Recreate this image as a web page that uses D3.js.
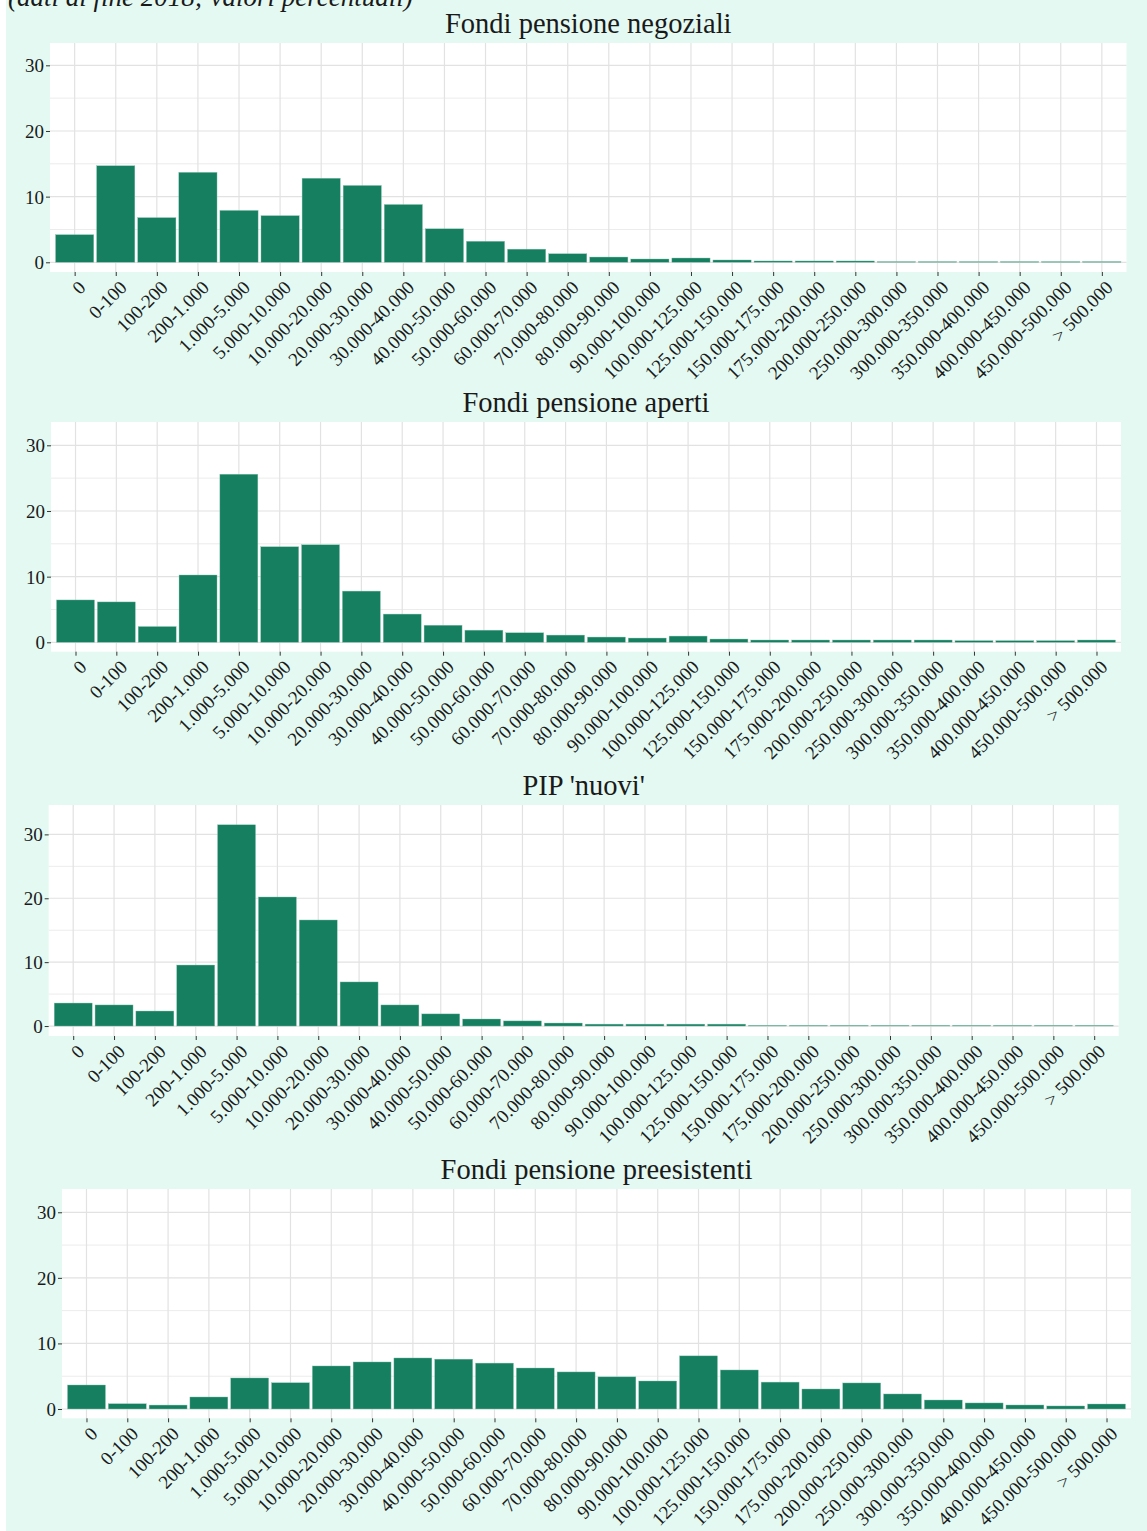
<!DOCTYPE html>
<html>
<head>
<meta charset="utf-8">
<script src="https://cdn.jsdelivr.net/npm/d3@7"></script>
<style>
  html, body { margin: 0; padding: 0; background: #ffffff; }
  svg { display: block; }
  text { font-family: "Liberation Serif", "Times New Roman", serif; fill: #1a1a1a; }
</style>
</head>
<body>
<svg id="chart" width="1147" height="1531"></svg>
<script>
// Classi di posizione individuale (euro)
const categories = [
  "0", "0-100", "100-200", "200-1.000", "1.000-5.000", "5.000-10.000",
  "10.000-20.000", "20.000-30.000", "30.000-40.000", "40.000-50.000",
  "50.000-60.000", "60.000-70.000", "70.000-80.000", "80.000-90.000",
  "90.000-100.000", "100.000-125.000", "125.000-150.000", "150.000-175.000",
  "175.000-200.000", "200.000-250.000", "250.000-300.000", "300.000-350.000",
  "350.000-400.000", "400.000-450.000", "450.000-500.000", "> 500.000"
];

// Quote percentuali degli iscritti per forma pensionistica
const negoziali = [4.2, 14.7, 6.8, 13.7, 7.9, 7.1, 12.8, 11.7, 8.8, 5.1, 3.2, 2.0, 1.3,
                   0.8, 0.5, 0.65, 0.35, 0.2, 0.2, 0.2, 0.1, 0.1, 0.1, 0.1, 0.1, 0.1];
const aperti = [6.45, 6.15, 2.4, 10.25, 25.6, 14.55, 14.85, 7.8, 4.3, 2.6, 1.85, 1.45, 1.1,
                0.8, 0.65, 0.95, 0.5, 0.35, 0.35, 0.35, 0.35, 0.35, 0.25, 0.25, 0.25, 0.35];
const pipNuovi = [3.6, 3.3, 2.35, 9.55, 31.5, 20.2, 16.6, 6.9, 3.3, 1.9, 1.1, 0.8, 0.47,
                  0.3, 0.3, 0.3, 0.3, 0.1, 0.1, 0.1, 0.1, 0.1, 0.1, 0.1, 0.1, 0.1];
const preesistenti = [3.66, 0.8, 0.6, 1.83, 4.73, 4.0, 6.56, 7.17, 7.78, 7.6, 7.0, 6.25, 5.65,
                      4.9, 4.27, 8.1, 5.95, 4.1, 3.05, 3.97, 2.29, 1.37, 0.92, 0.61, 0.46, 0.76];

const panelTitles = ["Fondi pensione negoziali", "Fondi pensione aperti", "PIP 'nuovi'", "Fondi pensione preesistenti"];
const panelValues = [negoziali, aperti, pipNuovi, preesistenti];
const yTicks = [0, 10, 20, 30];
const yMinorTicks = [5, 15, 25];
const subtitle = "(dati di fine 2018; valori percentuali)";

// Geometria dei quattro pannelli
const layout = [
  { left: 50,   right: 1126.5, top: 43,   bottom: 272,    lo: -1.48, hi: 33.4 },
  { left: 51,   right: 1121,   top: 422,  bottom: 651.7,  lo: -1.43, hi: 33.55 },
  { left: 48.7, right: 1118.7, top: 805,  bottom: 1036,   lo: -1.56, hi: 34.6 },
  { left: 62,   right: 1131,   top: 1189, bottom: 1418.3, lo: -1.42, hi: 33.55 }
];

const BAR = "#157f60";
const GRID = "#e2e2e2";
const GRID_MINOR = "#ececec";

const svg = d3.select("#chart");

// sfondo
svg.append("rect").attr("x", 6).attr("y", 0).attr("width", 1141).attr("height", 1531)
  .attr("fill", "#e3f9f2");

svg.append("text")
  .attr("x", 8).attr("y", 6)
  .attr("font-size", 27).attr("font-style", "italic")
  .text(subtitle);

layout.forEach((L, i) => {
  const values = panelValues[i];
  const g = svg.append("g");

  const x = d3.scalePoint().domain(categories).range([L.left, L.right]).padding(0.6);
  const y = d3.scaleLinear().domain([L.lo, L.hi]).range([L.bottom, L.top]);
  const bw = x.step() * 0.93;

  // area del grafico
  g.append("rect")
    .attr("x", L.left).attr("y", L.top)
    .attr("width", L.right - L.left).attr("height", L.bottom - L.top)
    .attr("fill", "#ffffff");

  // griglia
  g.selectAll(".ymin").data(yMinorTicks).join("line")
    .attr("x1", L.left).attr("x2", L.right)
    .attr("y1", d => y(d)).attr("y2", d => y(d))
    .attr("stroke", GRID_MINOR).attr("stroke-width", 1);
  g.selectAll(".ymaj").data(yTicks).join("line")
    .attr("x1", L.left).attr("x2", L.right)
    .attr("y1", d => y(d)).attr("y2", d => y(d))
    .attr("stroke", GRID).attr("stroke-width", 1.2);
  g.selectAll(".xg").data(categories).join("line")
    .attr("x1", d => x(d)).attr("x2", d => x(d))
    .attr("y1", L.top).attr("y2", L.bottom)
    .attr("stroke", GRID).attr("stroke-width", 1.2);

  // barre
  g.selectAll(".bar").data(values).join("rect")
    .attr("x", (d, j) => x(categories[j]) - bw / 2)
    .attr("width", bw)
    .attr("y", d => y(d))
    .attr("height", d => y(0) - y(d))
    .attr("fill", BAR)
    .attr("stroke", "#8cc4b1").attr("stroke-width", 0.4);

  // asse y
  const ya = g.append("g").attr("transform", `translate(${L.left},0)`)
    .call(d3.axisLeft(y).tickValues(yTicks).tickSize(4).tickPadding(2).tickFormat(d3.format("d")));
  ya.select(".domain").remove();
  ya.selectAll(".tick line").attr("stroke", "#333333").attr("stroke-width", 1);
  ya.selectAll(".tick text").attr("font-size", 19).attr("font-family", "Liberation Serif")
    .attr("fill", "#1a1a1a").attr("dy", "0.34em");

  // asse x
  const xa = g.append("g").attr("transform", `translate(0,${L.bottom})`)
    .call(d3.axisBottom(x).tickSize(4).tickPadding(0));
  xa.select(".domain").remove();
  xa.selectAll(".tick line").attr("stroke", "#333333").attr("stroke-width", 1);
  xa.selectAll(".tick text")
    .attr("font-size", 19).attr("font-family", "Liberation Serif").attr("fill", "#1a1a1a")
    .attr("text-anchor", "end")
    .attr("x", 0).attr("y", 0).attr("dy", "0.72em")
    .attr("transform", "translate(2,7) rotate(-45)");

  // titolo del pannello
  g.append("text")
    .attr("x", (L.left + L.right) / 2).attr("y", L.top - 10)
    .attr("text-anchor", "middle").attr("font-size", 28.5)
    .text(panelTitles[i]);
});
</script>
</body>
</html>
